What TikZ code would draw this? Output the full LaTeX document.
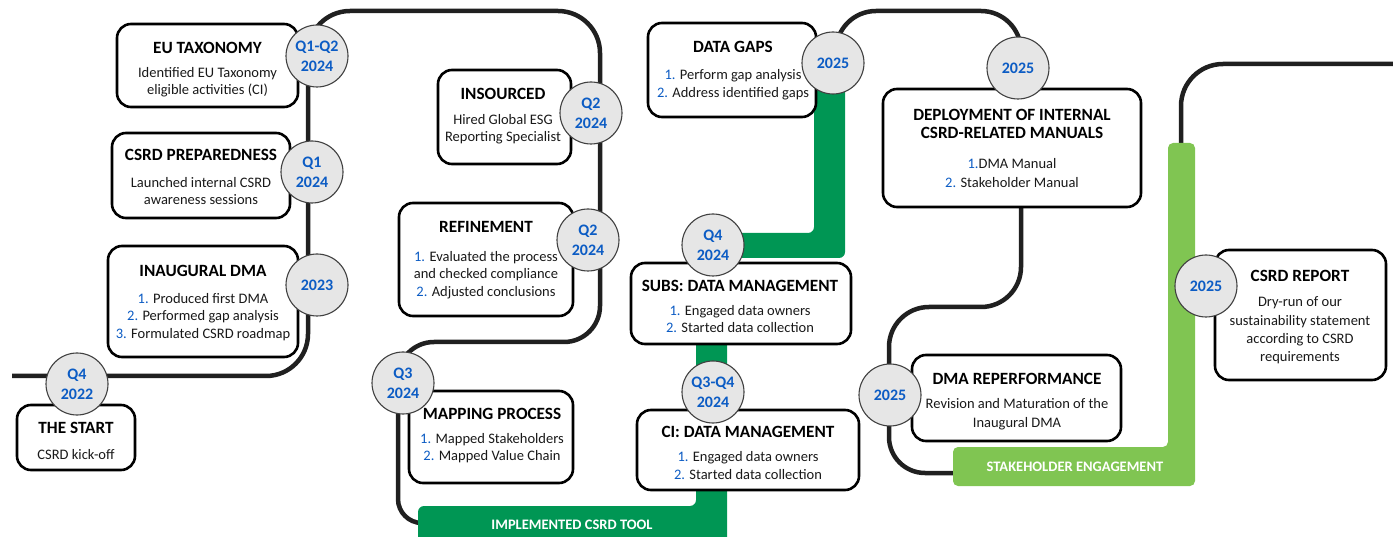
\documentclass[tikz,border=0pt]{standalone}
\usepackage{fontspec}
\setmainfont{Carlito}
\definecolor{trk}{RGB}{32,32,32}
\definecolor{dgreen}{RGB}{0,150,84}
\definecolor{lgreen}{RGB}{128,197,82}
\definecolor{nblue}{RGB}{12,92,196}
\definecolor{cgray}{RGB}{230,230,230}
\newcommand{\nb}[1]{\textcolor{nblue}{#1}}
\begin{document}
\begin{tikzpicture}[x=1pt,y=-1pt,
 track/.style={draw=trk, line width=4.5pt},
 box/.style={draw=black, line width=2.6pt, rounded corners=14pt, fill=white, inner sep=0pt},
 ttl/.style={font=\fontsize{17.2}{19}\selectfont\bfseries, text=black, inner sep=0pt, align=center},
 bdy/.style={font=\fontsize{14.5}{17.5}\selectfont, text=black!90, inner sep=0pt, align=center},
 circ/.style={circle, draw=black!75, line width=1.1pt, fill=cgray, minimum size=62pt, inner sep=0pt, align=center, font=\fontsize{16}{20}\selectfont\bfseries, text=nblue},
 bartxt/.style={font=\fontsize{14.5}{15}\selectfont\bfseries, text=white, inner sep=0pt}
]
\useasboundingbox (0,0) rectangle (1393,537);

% ---------- track waypoints ----------
\coordinate (a0) at (12,376);
\coordinate (a1) at (308,376);
\coordinate (a2) at (308,11);
\coordinate (a3) at (600,11);
\coordinate (a4) at (600,342);
\coordinate (a5) at (398,342);
\coordinate (a6) at (398,523);
\coordinate (a7) at (440,523);

\coordinate (b0) at (836,63);
\coordinate (b1) at (836,11);
\coordinate (b2) at (1021,11);
\coordinate (b3) at (1021,307);
\coordinate (b4) at (889,307);
\coordinate (b5) at (889,473);
\coordinate (b6) at (975,473);

\coordinate (c0) at (1181,150);
\coordinate (c1) at (1181,64);
\coordinate (c2) at (1400,64);

% ---------- black track ----------
\draw[track, rounded corners=42pt] (a0) -- (a1) -- (a2) -- (a3) [rounded corners=36pt] -- (a4) -- (a5) [rounded corners=24pt] -- (a6) -- (a7);
\draw[track, rounded corners=40pt] (b0) -- (b1) -- (b2) -- (b3) -- (b4) [rounded corners=36pt] -- (b5) -- (b6);
\draw[track, rounded corners=42pt] (c0) -- (c1) -- (c2);

% ---------- green bands ----------
\fill[dgreen, rounded corners=6pt] (418,545) -- (418,506) -- (696,506) -- (696,233) -- (814,233) -- (814,85) -- (845,85) -- (845,258) -- (727,258) -- (727,545) -- cycle;
\fill[lgreen, rounded corners=5pt] (953,447) -- (1168,447) -- (1168,143) -- (1195,143) -- (1195,486) -- (953,486) -- cycle;
\node[bartxt] (bar1) at (572,525) {IMPLEMENTED CSRD TOOL};
\node[bartxt] (bar2) at (1075,467) {STAKEHOLDER ENGAGEMENT};

% ---------- boxes ----------
\node[box, minimum width=181pt, minimum height=83pt] (eu) at (207.5,65.5) {};
\node[ttl] (eu-t) at (207.5,48) {EU TAXONOMY};
\node[bdy] (eu-b) at (207.5,82) {Identified EU Taxonomy\\eligible activities (CI)};

\node[box, minimum width=178pt, minimum height=85pt] (prep) at (201,175.5) {};
\node[ttl] (prep-t) at (201,155) {CSRD PREPAREDNESS};
\node[bdy] (prep-b) at (201,191) {Launched internal CSRD\\awareness sessions};

\node[box, minimum width=190pt, minimum height=111pt] (dma) at (203,301.5) {};
\node[ttl] (dma-t) at (203,271) {INAUGURAL DMA};
\node[bdy] (dma-b) at (203,317) {\nb{1.} Produced first DMA\\\nb{2.} Performed gap analysis\\\nb{3.} Formulated CSRD roadmap};

\node[box, minimum width=118pt, minimum height=65pt] (start) at (76,437.5) {};
\node[ttl] (start-t) at (76,428) {THE START};
\node[bdy] (start-b) at (76,455) {CSRD kick-off};

\node[box, minimum width=133pt, minimum height=94pt] (ins) at (504.5,117) {};
\node[ttl] (ins-t) at (503,94) {INSOURCED};
\node[bdy] (ins-b) at (503,129) {Hired Global ESG\\Reporting Specialist};

\node[box, minimum width=174pt, minimum height=113pt] (ref) at (486,259.5) {};
\node[ttl] (ref-t) at (486,227) {REFINEMENT};
\node[bdy] (ref-b) at (486,275) {\nb{1.} Evaluated the process\\and checked compliance\\\nb{2.} Adjusted conclusions};

\node[box, minimum width=164pt, minimum height=92pt] (map) at (491,437) {};
\node[ttl] (map-t) at (492,414) {MAPPING PROCESS};
\node[bdy] (map-b) at (492,448) {\nb{1.} Mapped Stakeholders\\\nb{2.} Mapped Value Chain};

\node[box, minimum width=168pt, minimum height=94pt] (gaps) at (732,70) {};
\node[ttl] (gaps-t) at (733,47) {DATA GAPS};
\node[bdy] (gaps-b) at (733,84.5) {\nb{1.} Perform gap analysis\\\nb{2.} Address identified gaps};

\node[box, minimum width=220pt, minimum height=81pt] (subs) at (741,303.5) {};
\node[ttl] (subs-t) at (740,286) {SUBS: DATA MANAGEMENT};
\node[bdy] (subs-b) at (740,319) {\nb{1.} Engaged data owners\\\nb{2.} Started data collection};

\node[box, minimum width=222pt, minimum height=80pt] (ci) at (748,450) {};
\node[ttl] (ci-t) at (748,432) {CI: DATA MANAGEMENT};
\node[bdy] (ci-b) at (748,465.5) {\nb{1.} Engaged data owners\\\nb{2.} Started data collection};

\node[box, minimum width=258pt, minimum height=118pt] (dep) at (1012,148) {};
\node[ttl, font=\fontsize{17.2}{18}\selectfont\bfseries] (dep-t) at (1012,124) {DEPLOYMENT OF INTERNAL\\CSRD-RELATED MANUALS};
\node[bdy, font=\fontsize{14.5}{19}\selectfont] (dep-b) at (1012,173.5) {\nb{1.}DMA Manual\\\nb{2.} Stakeholder Manual};

\node[box, minimum width=209pt, minimum height=86pt] (rep) at (1016.5,398) {};
\node[ttl] (rep-t) at (1017,379) {DMA REPERFORMANCE};
\node[bdy, font=\fontsize{14.5}{19}\selectfont] (rep-b) at (1017,414.5) {Revision and Maturation of the\\Inaugural DMA};

\node[box, minimum width=171pt, minimum height=130pt] (csrd) at (1300.5,315) {};
\node[ttl] (csrd-t) at (1300,276) {CSRD REPORT};
\node[bdy, font=\fontsize{14.5}{18.3}\selectfont] (csrd-b) at (1300,330.5) {Dry-run of our\\sustainability statement\\according to CSRD\\requirements};

% ---------- date circles ----------
\node[circ] (d-eu) at (317,56) {Q1-Q2\\2024};
\node[circ] (d-prep) at (312,172) {Q1\\2024};
\node[circ] (d-dma) at (317,285) {2023};
\node[circ] (d-start) at (77,384) {Q4\\2022};
\node[circ] (d-ins) at (591,113) {Q2\\2024};
\node[circ] (d-ref) at (588,240) {Q2\\2024};
\node[circ] (d-map) at (403,383) {Q3\\2024};
\node[circ] (d-gaps) at (833,63) {2025};
\node[circ] (d-subs) at (713,245) {Q4\\2024};
\node[circ] (d-ci) at (713,392) {Q3-Q4\\2024};
\node[circ] (d-dep) at (1018,68) {2025};
\node[circ] (d-rep) at (890,395) {2025};
\node[circ] (d-csrd) at (1206,286) {2025};
\end{tikzpicture}
\end{document}
